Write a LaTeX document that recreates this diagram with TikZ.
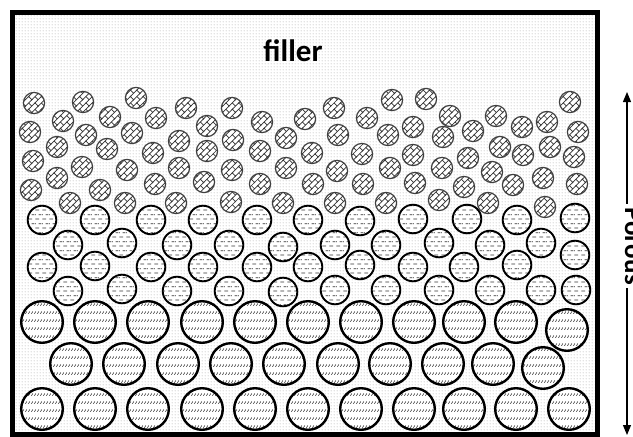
\documentclass[tikz,border=0pt]{standalone}
\usepackage{fontspec}
\setmainfont{Carlito}
\usetikzlibrary{patterns,patterns.meta,arrows.meta}

\tikzdeclarepattern{
  name=fillerdots, type=uncolored,
  bottom left={(0pt,0pt)}, top right={(3pt,3pt)}, tile size={(3pt,3pt)},
  code={\fill (1.5pt,1.5pt) circle[radius=0.55pt];}
}
\tikzdeclarepattern{
  name=brickdiag, type=uncolored,
  bottom left={(-1pt,-1pt)}, top right={(10pt,10pt)}, tile size={(9pt,9pt)},
  tile transformation={rotate=45},
  code={\draw[line width=0.7pt] (-1pt,0pt)--(10pt,0pt) (-1pt,4.5pt)--(10pt,4.5pt)
        (0pt,0pt)--(0pt,4.5pt) (4.5pt,4.5pt)--(4.5pt,9pt);}
}
\tikzdeclarepattern{
  name=dashrows, type=uncolored,
  bottom left={(0pt,0pt)}, top right={(7pt,9pt)}, tile size={(7pt,9pt)},
  code={\draw[line width=0.75pt] (0.5pt,2.25pt)--(4.5pt,2.25pt)
        (4pt,6.75pt)--(7pt,6.75pt) (0pt,6.75pt)--(1pt,6.75pt);}
}
\tikzdeclarepattern{
  name=slashbands, type=uncolored,
  bottom left={(0pt,0pt)}, top right={(2.8pt,7.5pt)}, tile size={(2.8pt,7.5pt)},
  code={\draw[line width=0.6pt] (0.5pt,1.2pt)--(1.9pt,3.8pt);}
}

\tikzset{
  smallc/.style={draw=black!75, line width=1.2pt, preaction={fill=white},
                 pattern=brickdiag, pattern color=black!80},
  medc/.style={draw=black, line width=1.9pt, preaction={fill=white},
               pattern=dashrows, pattern color=black!80},
  bigc/.style={draw=black, line width=2.4pt, preaction={fill=white},
               pattern=slashbands, pattern color=black!80},
  labelfont/.style={font=\bfseries\fontsize{31}{36}\selectfont},
  sidefont/.style={font=\bfseries\fontsize{27}{32}\selectfont},
  dblarrow/.style={{Triangle[length=10pt,width=8pt]}-{Triangle[length=10pt,width=8pt]}, line width=1.1pt}
}

\begin{document}
\begin{tikzpicture}[x=1pt,y=-1pt]
\useasboundingbox (0,0) rectangle (633,437);
\fill[white] (0,0) rectangle (633,437);
% background filler
\fill[white] (12.5,12.5) rectangle (597.5,434.5);
\fill[pattern=fillerdots, pattern color=black!45] (12.5,12.5) rectangle (597.5,434.5);

% small particles
\foreach \x/\y in {34/103,83/102,136/98,186/108,232/108,334/108,392/100,426/99,570/102,
  63/121,110/117,156/118,207/126,262/122,305/119,367/118,450/116,496/116,547/122,
  30/132,86/135,132/133,179/141,233/140,286/138,338/135,388/135,413/127,443/137,473/131,522/127,578/132,
  57/147,107/149,153/153,207/151,260/151,312/153,362/154,413/155,500/147,550/147,
  33/161,82/167,127/170,179/168,232/170,286/168,337/171,390/168,442/168,468/158,523/155,574/157,
  57/178,155/184,204/182,260/184,313/184,363/184,415/183,464/187,513/185,577/184,492/172,543/178,
  31/190,100/190,
  70/203,125/203,176/203,231/202,283/203,335/203,386/203,439/200,488/203,545/207}
  \draw[smallc] (\x,\y) circle[radius=10.6pt];

% medium particles
\foreach \x/\y in {42/220,95/220,151/220,203/220,257/220,308/220,360/221,413/219,467/219,517/220,575/218,
  68/245,122/243,177/245,229/245,283/247,335/245,386/245,439/243,490/245,541/243,575/255,
  42/267,95/266,151/267,203/267,257/267,308/267,360/265,413/267,464/267,517/265,
  68/291,122/289,177/291,229/291,283/292,335/290,386/290,439/290,490/290,541/290,576/290}
  \draw[medc] (\x,\y) circle[radius=14.3pt];

% large particles
\foreach \x/\y in {42/322,95/322,148/322,202/322,255/322,308/322,361/322,414/322,464/322,516/322,567/330,
  71/364,124/364,178/364,231/364,284/364,338/364,390/364,443/364,493/364,543/368,
  42/409,95/409,148/409,202/409,255/409,308/409,361/409,414/409,464/409,516/409,569/409}
  \draw[bigc] (\x,\y) circle[radius=20.8pt];

% frame
\draw[line width=5pt] (12.5,12.5) rectangle (597.5,434.5);

\node[labelfont, inner sep=0pt] (filler) at (293,51) {filler};

% side arrow
\coordinate (atop) at (627,92);
\coordinate (abot) at (627,435);
\draw[dblarrow] (atop) -- (abot);
\node[sidefont, fill=white, rotate=-90, anchor=base, inner sep=3pt] (porous) at (625,246) {Porous};
\end{tikzpicture}
\end{document}
